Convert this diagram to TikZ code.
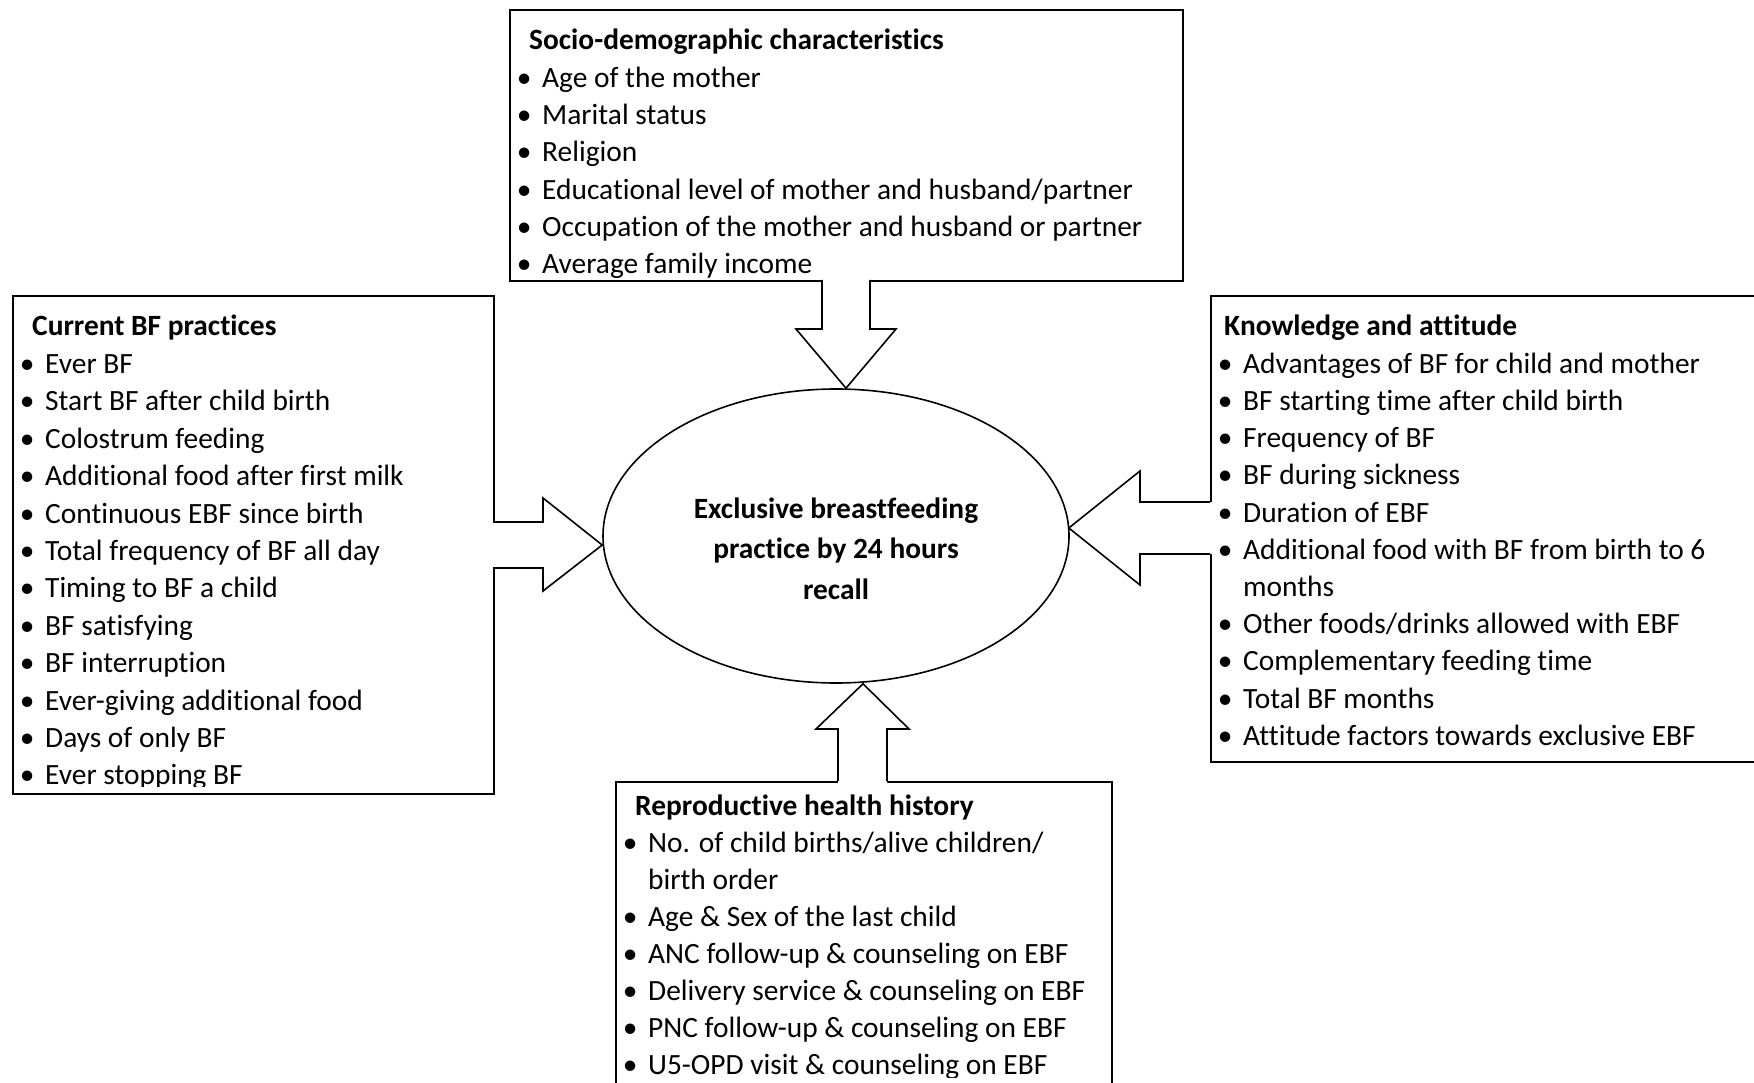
\documentclass[tikz,border=0pt]{standalone}
\usepackage{fontspec}
\setmainfont[Ligatures=NoCommon]{Carlito}
\usetikzlibrary{shapes.geometric,calc}
\newcommand\myBullet{\llap{\makebox[36pt]{\textbullet}}}
\begin{document}
\begin{tikzpicture}[x=1pt,y=-1pt,
  boxstyle/.style={draw, line width=1.6pt, fill=white, rectangle, inner sep=0pt, anchor=north west},
  arrowline/.style={draw, line width=1.6pt, line join=miter},
  arrowfill/.style={fill=white},
  txt/.style={inner sep=0pt, anchor=base west, font=\fontsize{29.4}{37.4}\selectfont},
  ttl/.style={txt, font=\fontsize{29.4}{37.4}\selectfont\bfseries},
]
\useasboundingbox (0,0) rectangle (1754,1083);
\fill[white] (0,0) rectangle (1754,1083);
\begin{scope}
\clip (0,0) rectangle (1754,1083);

% boxes
\node[boxstyle, minimum width=673pt, minimum height=271pt] (topbox) at (509,9) {};
\node[boxstyle, minimum width=481pt, minimum height=498pt] (leftbox) at (12,295) {};
\node[boxstyle, minimum width=580pt, minimum height=466pt] (rightbox) at (1210,295) {};
\node[boxstyle, minimum width=496pt, minimum height=330pt] (botbox) at (615,781) {};

% central ellipse
\node[draw, ellipse, line width=1.6pt, minimum width=466pt, minimum height=294pt, inner sep=0pt] (ebf) at (836,536) {};

% tips on the ellipse
\coordinate (tipT) at ($(ebf.north)+(10,0)$);
\coordinate (tipL) at ($(ebf.west)+(0,9)$);
\coordinate (tipR) at ($(ebf.east)+(-1,-8)$);
\coordinate (tipB) at ($(ebf.south)+(27,0)$);

% top arrow
\path[arrowfill] (822,276) -- (822,329) -- (796,329) -- (tipT) -- (896,329) -- (870,329) -- (870,276) -- cycle;
\path[arrowline] (822,280) -- (822,329) -- (796,329) -- (tipT) -- (896,329) -- (870,329) -- (870,280);
% left arrow
\path[arrowfill] (489,522) -- (543,522) -- (543,498) -- (tipL) -- (543,591) -- (543,568) -- (489,568) -- cycle;
\path[arrowline] (493,522) -- (543,522) -- (543,498) -- (tipL) -- (543,591) -- (543,568) -- (493,568);
% right arrow
\path[arrowfill] (1214,502) -- (1140,502) -- (1140,471) -- (tipR) -- (1140,585) -- (1140,554) -- (1214,554) -- cycle;
\path[arrowline] (1210,502) -- (1140,502) -- (1140,471) -- (tipR) -- (1140,585) -- (1140,554) -- (1210,554);
% bottom arrow
\path[arrowfill] (838,785) -- (838,729) -- (816,729) -- (tipB) -- (909,729) -- (887,729) -- (887,785) -- cycle;
\path[arrowline] (838,781) -- (838,729) -- (816,729) -- (tipB) -- (909,729) -- (887,729) -- (887,781);

% ellipse text
\node[ttl, anchor=base] (ebf-1) at (836,518) {Exclusive breastfeeding};
\node[ttl, anchor=base] (ebf-2) at (836,558) {practice by 24 hours};
\node[ttl, anchor=base] (ebf-3) at (836,599) {recall};

% top box text
\begin{scope}
\clip (topbox.north west) rectangle (1182,278);
\node[ttl] (sd-0) at (529,50) {Socio-demographic characteristics};
\foreach \t [count=\i] in {Age of the mother, Marital status, Religion,
  Educational level of mother and husband/partner,
  Occupation of the mother and husband or partner, Average family income}
  \node[txt] (sd-\i) at (542,50+37.3*\i) {\myBullet\t};
\end{scope}

% left box text
\begin{scope}
\clip (leftbox.north west) rectangle (493,786);
\node[ttl] (bf-0) at (32,336) {Current BF practices};
\foreach \t [count=\i] in {Ever BF, Start BF after child birth, Colostrum feeding,
  Additional food after first milk, Continuous EBF since birth,
  Total frequency of BF all day, Timing to BF a child, BF satisfying,
  BF interruption, Ever-giving additional food, Days of only BF, Ever stopping BF}
  \node[txt] (bf-\i) at (45,336+37.4*\i) {\myBullet\t};
\end{scope}

% right box text
\node[ttl] (ka-0) at (1224,336) {Knowledge and attitude};
\foreach \t [count=\i] in {Advantages of BF for child and mother,
  BF starting time after child birth, Frequency of BF, BF during sickness,
  Duration of EBF, Additional food with BF from birth to 6}
  \node[txt] (ka-\i) at (1243,336+37.2*\i) {\myBullet\t};
\node[txt] (ka-7) at (1243,336+37.2*7) {months};
\foreach \t [count=\i from 8] in {Other foods/drinks allowed with EBF,
  Complementary feeding time, Total BF months,
  Attitude factors towards exclusive EBF}
  \node[txt] (ka-\i) at (1243,336+37.2*\i) {\myBullet\t};

% bottom box text
\begin{scope}
\clip (botbox.north west) rectangle (1111,1077);
\node[ttl] (rh-0) at (635,815) {Reproductive health history};
\node[txt] (rh-1) at (648,815+37.1) {\myBullet No. of child births/alive children/};
\node[txt] (rh-2) at (648,815+37.1*2) {birth order};
\foreach \t [count=\i from 3] in {Age \& Sex of the last child,
  ANC follow-up \& counseling on EBF, Delivery service \& counseling on EBF,
  PNC follow-up \& counseling on EBF, U5-OPD visit \& counseling on EBF}
  \node[txt] (rh-\i) at (648,815+37.1*\i) {\myBullet\t};
\end{scope}

\end{scope}
\end{tikzpicture}
\end{document}
